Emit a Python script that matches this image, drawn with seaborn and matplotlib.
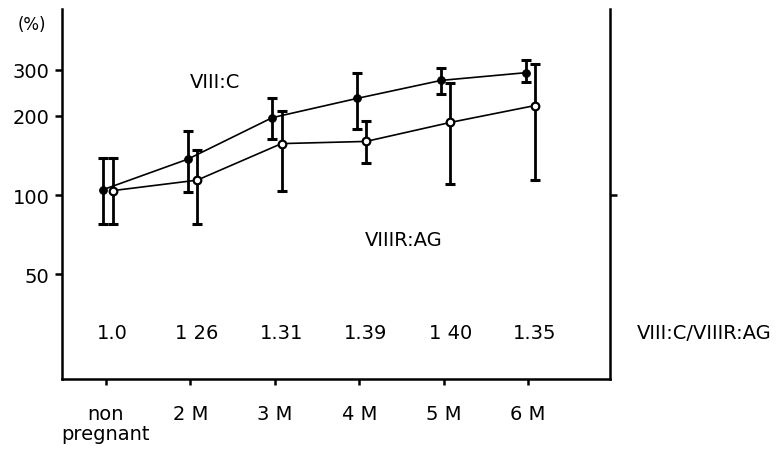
import seaborn as sns
import matplotlib.pyplot as plt
import pandas as pd
import numpy as np
from matplotlib.ticker import NullLocator

# months of pregnancy
months = ["non\npregnant", "2 M", "3 M", "4 M", "5 M", "6 M"]

# VIII:C (filled) - mean and error bar ends, % of non pregnant
c_mean = [105, 137, 197, 233, 273, 292]
c_low = [78, 103, 163, 179, 243, 270]
c_high = [139, 175, 235, 292, 303, 325]

# VIIIR:AG (open)
ag_mean = [104, 114, 157, 160, 189, 219]
ag_low = [78, 78, 104, 132, 110, 114]
ag_high = [139, 148, 208, 192, 268, 316]

ratios = ["1.0", "1 26", "1.31", "1.39", "1 40", "1.35"]

ytick_vals = [50, 100, 200, 300]

sns.set_theme(style="ticks")
plt.rcParams["font.family"] = ["DejaVu Sans"]
plt.rcParams["text.color"] = "black"
plt.rcParams["xtick.color"] = "black"
plt.rcParams["ytick.color"] = "black"

idx = np.arange(len(months))
df = pd.DataFrame({
    "pos": np.concatenate([idx - 0.03, idx + 0.08]),
    "value": c_mean + ag_mean,
    "series": ["VIII:C"] * len(months) + ["VIIIR:AG"] * len(months),
})

fig = plt.figure(figsize=(7.81, 4.56), dpi=100)
ax = fig.add_axes([62 / 781, 1 - 380 / 456, (610 - 62) / 781, (380 - 10) / 456])

sns.lineplot(data=df, x="pos", y="value", hue="series", style="series",
             palette=["black", "black"], markers=["o", "o"], dashes=False,
             linewidth=1.2, markersize=5.5, legend=False, ax=ax)
# open markers for VIIIR:AG
lines = ax.get_lines()
lines[1].set_markerfacecolor("white")
lines[1].set_markeredgecolor("black")
lines[1].set_markeredgewidth(1.6)
lines[0].set_markeredgecolor("black")

for pos, mean, lo, hi in [(idx - 0.03, c_mean, c_low, c_high),
                          (idx + 0.08, ag_mean, ag_low, ag_high)]:
    mean = np.array(mean)
    err = [mean - np.array(lo), np.array(hi) - mean]
    ax.errorbar(pos, mean, yerr=err, fmt="none", ecolor="black",
                elinewidth=2.0, capsize=3.5, capthick=2.2, zorder=1)

ax.set_yscale("log")
ax.set_ylim(20, 510)
ax.set_xlim(-0.52, 5.97)
ax.yaxis.set_minor_locator(NullLocator())
ax.set_yticks(ytick_vals)
ax.set_yticklabels([str(v) for v in ytick_vals])
ax.set_xticks(idx)
ax.set_xticklabels(months, linespacing=1.1)
ax.set_xlabel("")
ax.set_ylabel("")

for s in ["left", "bottom", "right"]:
    ax.spines[s].set_linewidth(1.8)
    ax.spines[s].set_color("black")
ax.spines["top"].set_visible(False)
ax.tick_params(axis="y", direction="out", length=5, width=1.8, pad=4,
               labelsize=14, colors="black")
ax.tick_params(axis="x", direction="out", length=4, width=1.8, pad=14,
               labelsize=14, colors="black")

# single tick on the right axis
rax = ax.twinx()
rax.set_yscale("log")
rax.set_ylim(ax.get_ylim())
rax.yaxis.set_minor_locator(NullLocator())
rax.set_yticks([100])
rax.set_yticklabels([""])
rax.tick_params(axis="y", direction="out", length=5, width=1.8, colors="black")
for s in rax.spines.values():
    s.set_visible(False)

# ratio row
for i, r in enumerate(ratios):
    ax.text(i + 0.08, 30, r, ha="center", va="center", fontsize=14)
ax.text(6.29, 30, "VIII:C/VIIIR:AG", ha="left", va="center", fontsize=14,
        clip_on=False)

ax.text(1.29, 270, "VIII:C", ha="center", va="center", fontsize=14)
ax.text(3.53, 68, "VIIIR:AG", ha="center", va="center", fontsize=14)

fig.text(32 / 781, 1 - 25 / 456, "(%)", ha="center", va="center", fontsize=12)

fig.savefig("out.png", dpi=100)
